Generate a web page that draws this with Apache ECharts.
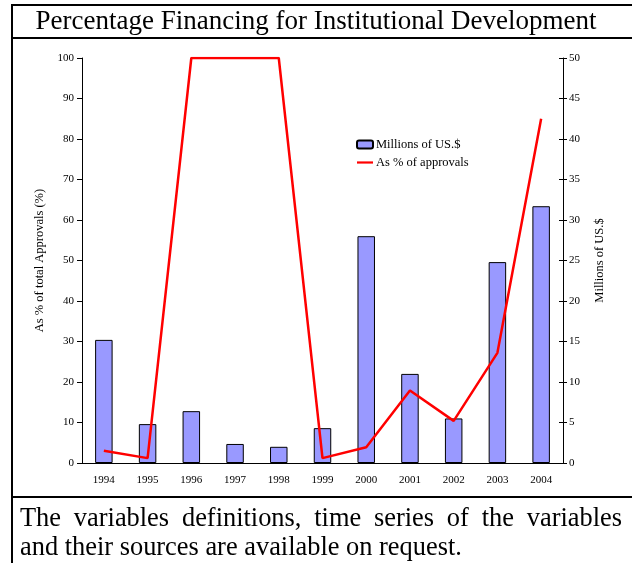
<!DOCTYPE html>
<html>
<head>
<meta charset="utf-8">
<script src="https://cdn.jsdelivr.net/npm/echarts@6/dist/echarts.min.js"></script>
<style>
  html, body { margin: 0; padding: 0; background: #fff; }
  #main { width: 632px; height: 563px; }
</style>
</head>
<body>
<div id="main"></div>
<script>
const years = ['1994', '1995', '1996', '1997', '1998', '1999', '2000', '2001', '2002', '2003', '2004']
// bars, right axis
const millions = [15.2, 4.8, 6.4, 2.35, 2.0, 4.3, 28.0, 11.0, 5.5, 24.8, 31.7]
// line, left axis
const pctApprovals = [3.0, 1.2, 100, 100, 100, 1.2, 3.9, 17.9, 10.4, 27.2, 85]

const titleText = 'Percentage Financing for Institutional Development'
const noteLine1 = 'The variables definitions, time series of the variables'
const noteLine2 = 'and their sources are available on request.'

const serif = '"Liberation Serif", "Times New Roman", serif'

let chart = echarts.init(document.getElementById('main'))

// justify the first note line word by word
let ctx = document.createElement('canvas').getContext('2d')
let noteFont = '26.4px ' + serif
ctx.font = noteFont
let words = noteLine1.split(' ')
let widths = words.map(w => ctx.measureText(w).width)
let total = widths.reduce((a, b) => a + b, 0)
let left = 20, right = 622
let gap = (right - left - total) / (words.length - 1)
let noteGraphics = []
let x = left
words.forEach((w, i) => {
    noteGraphics.push({
        type: 'text', left: x, top: 506,
        style: { text: w, font: noteFont, fill: '#000' }
    })
    x += widths[i] + gap
})
noteGraphics.push({
    type: 'text', left: left, top: 535,
    style: { text: noteLine2, font: noteFont, fill: '#000' }
})

const frame = { stroke: '#000', lineWidth: 2 }

let option = {
    animation: false,
    textStyle: { fontFamily: serif },
    title: {
        text: titleText,
        left: 'center',
        top: 3,
        textStyle: { fontFamily: serif, fontSize: 27, fontWeight: 'normal', color: '#000' }
    },
    legend: {
        orient: 'vertical',
        left: 351,
        top: 133,
        itemWidth: 16,
        itemHeight: 8,
        itemGap: 5,
        textStyle: { fontFamily: serif, fontSize: 12.5, color: '#000', padding: [0, 0, 0, -2] },
        data: [
            { name: 'Millions of US.$' },
            {
                name: 'As % of approvals',
                icon: 'path://M0,0L16,0L16,2.2L0,2.2Z',
                itemStyle: { color: '#FF0000', borderWidth: 0 }
            }
        ]
    },
    grid: { left: 82, right: 69, top: 58, bottom: 100 },
    xAxis: {
        type: 'category',
        data: years,
        axisLine: { lineStyle: { color: '#000' } },
        axisTick: { lineStyle: { color: '#000' }, length: 4 },
        axisLabel: { color: '#000', fontSize: 11, fontFamily: serif, margin: 12 }
    },
    yAxis: [
        {
            type: 'value',
            min: 0, max: 100, interval: 10,
            name: 'As % of total Approvals (%)',
            nameLocation: 'middle',
            nameGap: 31,
            nameTextStyle: { fontFamily: serif, fontSize: 12.5, color: '#000' },
            axisLine: { show: true, lineStyle: { color: '#000' } },
            axisTick: { show: true, length: 5, lineStyle: { color: '#000' } },
            axisLabel: { color: '#000', fontSize: 11, fontFamily: serif, margin: 8 },
            splitLine: { show: false }
        },
        {
            type: 'value',
            position: 'right',
            min: 0, max: 50, interval: 5,
            name: 'Millions of US.$',
            nameLocation: 'middle',
            nameGap: 30,
            nameTextStyle: { fontFamily: serif, fontSize: 12.5, color: '#000' },
            axisLine: { show: true, lineStyle: { color: '#000' } },
            axisTick: { show: true, length: 4, lineStyle: { color: '#000' } },
            axisLabel: { color: '#000', fontSize: 11, fontFamily: serif, margin: 6 },
            splitLine: { show: false }
        },
        {
            // inner half of the right axis ticks (they cross the axis)
            type: 'value',
            position: 'right',
            min: 0, max: 50, interval: 5,
            axisLine: { show: false },
            axisTick: { show: true, inside: true, length: 4, lineStyle: { color: '#000' } },
            axisLabel: { show: false },
            splitLine: { show: false }
        }
    ],
    series: [
        {
            name: 'Millions of US.$',
            type: 'bar',
            yAxisIndex: 1,
            barWidth: '40%',
            data: millions,
            itemStyle: { color: '#9999FF', borderColor: '#000', borderWidth: 1 }
        },
        {
            name: 'As % of approvals',
            type: 'line',
            yAxisIndex: 0,
            data: pctApprovals,
            symbol: 'none',
            lineStyle: { color: '#FF0000', width: 2.5 },
            itemStyle: { color: '#FF0000' }
        }
    ],
    graphic: [
        { type: 'line', shape: { x1: 12, y1: 5, x2: 632, y2: 5 }, style: frame },
        { type: 'line', shape: { x1: 12, y1: 38, x2: 632, y2: 38 }, style: frame },
        { type: 'line', shape: { x1: 12, y1: 497, x2: 632, y2: 497 }, style: frame },
        { type: 'line', shape: { x1: 12, y1: 4, x2: 12, y2: 563 }, style: frame }
    ].concat(noteGraphics)
}

chart.setOption(option)
</script>
</body>
</html>
